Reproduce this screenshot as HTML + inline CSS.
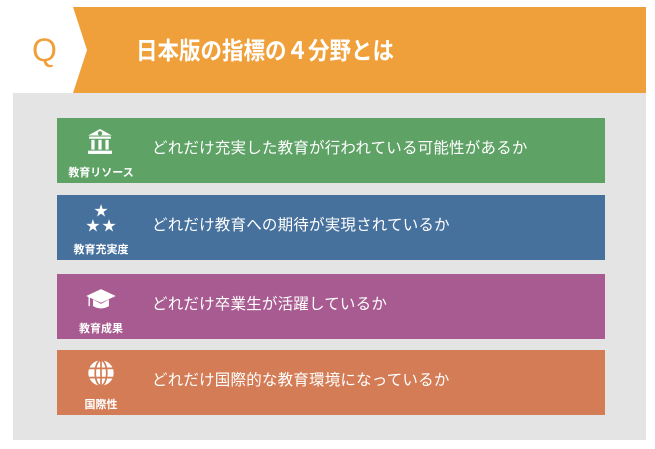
<!DOCTYPE html>
<html><head><meta charset="utf-8"><style>
body{margin:0;width:655px;height:449px;background:#fff;position:relative;overflow:hidden;font-family:"Liberation Sans","Noto Sans CJK JP",sans-serif;}
.abs{position:absolute}
.box{position:absolute;left:57px;width:548px;height:65px;color:#fff;}
.box .t{position:absolute;left:95px;top:0;line-height:62px;font-size:15.5px;letter-spacing:0.2px}
.box .l{position:absolute;left:0;width:88px;text-align:center;top:46px;font-size:11px;font-weight:bold}
.box svg{position:absolute;left:32px;top:10px}
</style></head><body>
<div class="abs" style="left:13px;top:93px;width:633px;height:347px;background:#e4e4e4"></div>
<svg class="abs" style="left:0;top:0" width="655" height="95"><polygon points="73,7 646,7 646,93 73,93 87,50" fill="#f0a03a"/></svg>
<div class="abs" style="left:32px;top:30px;font-size:32px;color:#f0a03a;line-height:40px">Q</div>
<div class="abs" style="left:136px;top:33px;font-size:21.5px;color:#fff;line-height:36px;font-weight:bold;transform:scaleY(1.12);transform-origin:left center">日本版の指標の４分野とは</div>

<div class="box" style="top:118px;background:#5ea266">
<svg width="26" height="30" viewBox="0 0 24 26" style="left:30px;top:9px"><polygon points="12,1 23,7 1,7" fill="#fff"/><circle cx="12" cy="5" r="2" fill="#5ea266"/><rect x="2" y="8" width="20" height="2" fill="#fff"/><rect x="4" y="11" width="3" height="9" fill="#fff"/><rect x="10.5" y="11" width="3" height="9" fill="#fff"/><rect x="17" y="11" width="3" height="9" fill="#fff"/><rect x="1" y="21" width="22" height="3" fill="#fff"/></svg>
<div class="l">教育リソース</div><div class="t">どれだけ充実した教育が行われている可能性があるか</div></div>

<div class="box" style="top:195px;background:#46719d">
<svg width="30" height="30" viewBox="0 0 26 26" style="left:29px;top:8px"><text x="13" y="11" font-size="12" fill="#fff" text-anchor="middle">★</text><text x="6" y="24" font-size="12" fill="#fff" text-anchor="middle">★</text><text x="20" y="24" font-size="12" fill="#fff" text-anchor="middle">★</text></svg>
<div class="l">教育充実度</div><div class="t">どれだけ教育への期待が実現されているか</div></div>

<div class="box" style="top:274px;background:#a85b90">
<svg width="32" height="25" viewBox="0 0 28 22" style="left:28px;top:14px"><polygon points="14,1 27,7 14,13 1,7" fill="#fff"/><path d="M7,10 v6 q7,4 14,0 v-6 l-7,4z" fill="#fff"/><rect x="3" y="7" width="1.2" height="9" fill="#fff"/></svg>
<div class="l">教育成果</div><div class="t">どれだけ卒業生が活躍しているか</div></div>

<div class="box" style="top:350px;background:#d37c56">
<svg width="30" height="30" viewBox="0 0 26 26" style="left:29px;top:8px"><circle cx="13" cy="13" r="11" fill="#fff"/><g stroke="#d37c56" stroke-width="1.5" fill="none"><line x1="2" y1="9" x2="24" y2="9"/><line x1="2" y1="17" x2="24" y2="17"/><line x1="13" y1="2" x2="13" y2="24"/><ellipse cx="13" cy="13" rx="5" ry="11"/></g></svg>
<div class="l">国際性</div><div class="t">どれだけ国際的な教育環境になっているか</div></div>
</body></html>
